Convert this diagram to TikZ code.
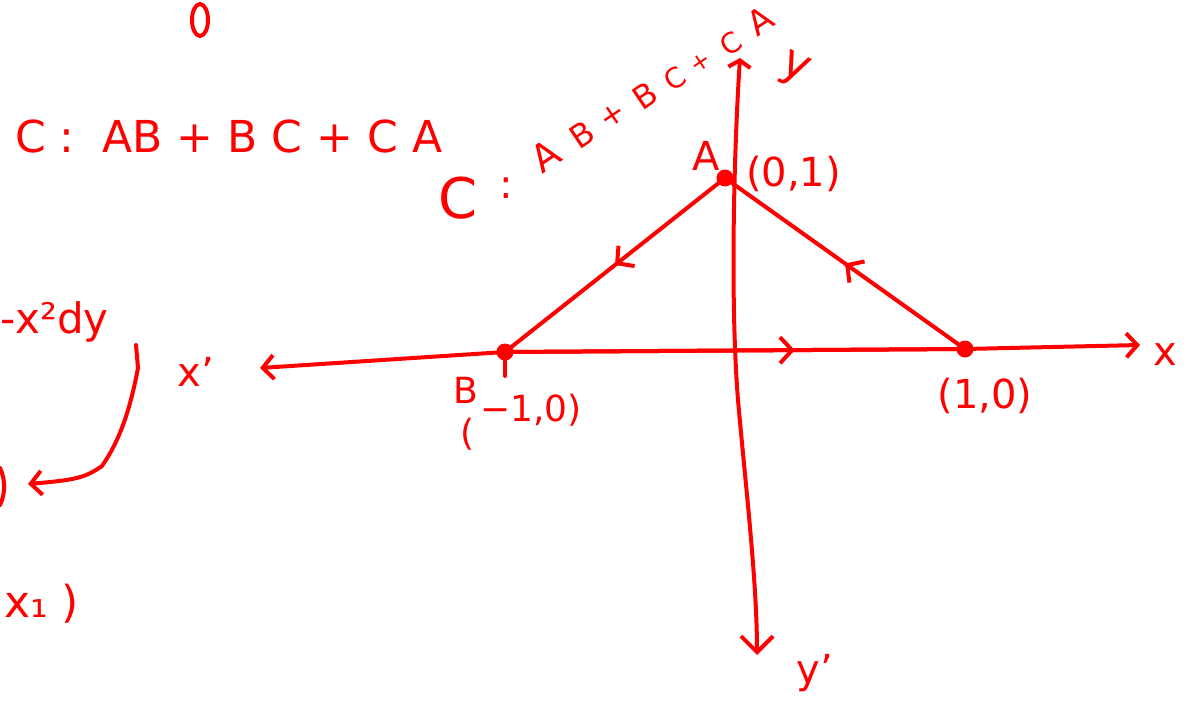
\documentclass[tikz,border=0pt]{standalone}
\usepackage{fontspec}
\setmainfont{DejaVu Sans}
\usetikzlibrary{arrows.meta,decorations.markings}
\begin{document}
\begin{tikzpicture}[x=1pt,y=-1pt,
  ink/.style={draw=red, line width=4pt, line cap=round, line join=round},
  hand/.style={text=red, inner sep=0pt, font=\fontsize{40}{40}\selectfont},
  small/.style={text=red, inner sep=0pt, font=\fontsize{36}{36}\selectfont},
  rotl/.style={text=red, inner sep=0pt, font=\fontsize{32}{32}\selectfont, rotate=34},
  dot/.style={circle, fill=red, minimum size=17pt, inner sep=0pt},
  midarrow/.style={postaction={decorate}, decoration={markings, mark=at position #1 with {\arrow{Straight Barb[length=12pt, width=26pt]}}}}
]
\useasboundingbox (0,0) rectangle (1194,701);

% points
\node[dot] (A) at (725,178) {};
\node[dot] (B) at (505,352) {};
\node[dot] (C) at (965,349) {};

% axes
\coordinate (xl) at (260,368);
\coordinate (xr) at (1140,345);
\coordinate (yt) at (740,58);
\coordinate (yb) at (757,655);
\draw[ink, {Straight Barb[length=11pt, width=24pt]}-{Straight Barb[length=11pt, width=24pt]}]
  (xl) -- (B.center) -- (C.center) -- (xr);
\draw[ink, {Straight Barb[length=7pt, width=22pt]}-{Straight Barb[length=16pt, width=32pt]}]
  (yt) .. controls (734,150) and (730,300) .. (738,400) .. controls (745,480) and (757,580) .. (yb);

% triangle edges
\draw[ink, midarrow=0.5] (A.center) -- (B.center);
\draw[ink, midarrow=0.5] (C.center) -- (A.center);
\draw[ink, midarrow=0.63] (B.center) -- (C.center);
\draw[ink] (B.center) -- ++(0,24);

% axis labels
\node[hand, font=\fontsize{46}{46}\selectfont, rotate=-25] (ylab) at (794,70) {y};
\node[hand] (xlab) at (1165,355) {x};
\node[hand] (xplab) at (196,372) {x'};
\node[hand] (yplab) at (815,673) {y'};

% point labels
\node[hand, anchor=east] (Alab) at (720,156) {A};
\node[hand, anchor=west] (Acoord) at (746,174) {(0,1)};
\node[small] (Blab) at (466,390) {B};
\node[small, anchor=west] (Bcoord) at (480,410) {−1,0)};
\node[small] (Bpar) at (468,434) {(};
\node[hand] (Ccoord) at (985,396) {(1,0)};

% rotated curve definition
\node[hand, font=\fontsize{56}{56}\selectfont] (Cbig) at (458,198) {C};
\node[hand] (colon) at (506,188) {:};
\node[rotl, font=\fontsize{38}{38}\selectfont] (r1) at (546,156) {A};
\node[rotl] (r2) at (582,135) {B};
\node[rotl, font=\fontsize{30}{30}\selectfont] (r3) at (613,116) {+};
\node[rotl] (r4) at (645,96) {B};
\node[rotl, font=\fontsize{28}{28}\selectfont] (r5) at (675,79) {C};
\node[rotl, font=\fontsize{24}{24}\selectfont] (r6) at (701,63) {+};
\node[rotl, font=\fontsize{28}{28}\selectfont] (r7) at (731,44) {C};
\node[rotl, font=\fontsize{34}{34}\selectfont] (r8) at (760,21) {A};

% left column
\node[hand, font=\fontsize{44}{44}\selectfont, anchor=base west] (leftC) at (15,152) {C :\ \ AB + B C + C A};
\draw[ink] (200,20) ellipse (8 and 16);
\node[hand, font=\fontsize{42}{42}\selectfont, anchor=west] (dy) at (0,322) {-x²dy};
\draw[ink, -{Straight Barb[length=11pt, width=24pt]}] (136,345) -- (138,368)
  .. controls (130,410) and (120,440) .. (102,466)
  .. controls (85,478) and (75,480) .. (28,484);
\draw[ink] (0,468) .. controls (6,480) and (5,495) .. (0,505);
\node[hand, font=\fontsize{44}{44}\selectfont, anchor=west] (x1) at (4,604) {x₁ )};
\end{tikzpicture}
\end{document}
